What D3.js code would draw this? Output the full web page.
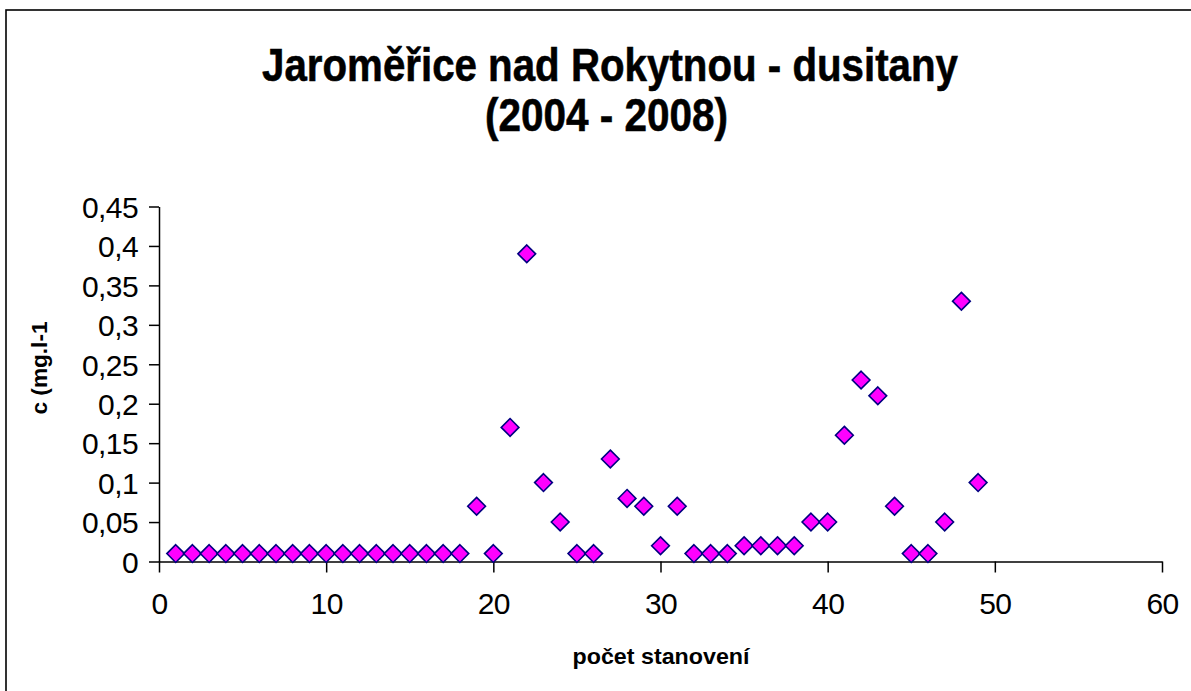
<!DOCTYPE html>
<html><head><meta charset="utf-8">
<script src="https://cdn.jsdelivr.net/npm/d3@7"></script>
<style>body{margin:0;background:#fff}svg{display:block}text{font-family:Arial,"Liberation Sans",sans-serif}</style>
</head><body>
<svg id="c" width="1191" height="691"></svg>
<script>
const titleLines = ["Jaroměřice nad Rokytnou - dusitany", "(2004 - 2008)"];
const xTitle = "počet stanovení";
const yTitle = "c (mg.l-1";
const xs = d3.range(1, 50);
const values = [0.01,0.01,0.01,0.01,0.01,0.01,0.01,0.01,0.01,0.01,0.01,0.01,0.01,0.01,0.01,0.01,0.01,0.01,
  0.07,0.01,0.17,0.39,0.10,0.05,0.01,0.01,0.13,0.08,0.07,0.02,0.07,0.01,0.01,0.01,0.02,0.02,0.02,0.02,
  0.05,0.05,0.16,0.23,0.21,0.07,0.01,0.01,0.05,0.33,0.10];
const xTicks = [0,10,20,30,40,50,60];
const yTicks = [0,0.05,0.1,0.15,0.2,0.25,0.3,0.35,0.4,0.45];

const svg = d3.select("#c");
svg.append("rect").attr("x",6).attr("y",10).attr("width",1200).attr("height",700)
  .attr("fill","none").attr("stroke","#000").attr("stroke-width",1.6);

const x = d3.scaleLinear().domain([0,60]).range([159,1162]);
const y = d3.scaleLinear().domain([0,0.45]).range([561.5,206.5]);
const fmt = d => String(d).replace(".", ",");

const xa = svg.append("g").attr("transform","translate(0,561.5)")
  .call(d3.axisBottom(x).tickValues(xTicks).tickSize(11).tickPadding(20).tickSizeOuter(0).tickFormat(d=>d));
const ya = svg.append("g").attr("transform","translate(159,0)")
  .call(d3.axisLeft(y).tickValues(yTicks).tickSize(10).tickPadding(11).tickSizeOuter(0).tickFormat(fmt));
[xa,ya].forEach(a=>{
  a.select(".domain").attr("stroke","#000").attr("stroke-width",1.5);
  a.selectAll(".tick line").attr("stroke","#000").attr("stroke-width",1.5);
  a.selectAll(".tick text").attr("font-size",30).attr("fill","#000")
   .attr("font-family","Arial, 'Liberation Sans', sans-serif").attr("letter-spacing",-0.6);
});
ya.selectAll(".tick text").attr("dy","0.36em");

const sym = d3.symbol().type(d3.symbolDiamond2).size(200);
svg.append("g").selectAll("path").data(values).join("path")
  .attr("transform",(d,i)=>`translate(${x(xs[i])},${y(d)})`)
  .attr("d", sym)
  .attr("fill","#ff00ff").attr("stroke","#000080").attr("stroke-width",1.6);

const t = svg.append("g").attr("font-weight","bold").attr("text-anchor","middle").attr("font-size",47)
  .attr("stroke","#000").attr("stroke-width",0.6);
t.append("text").attr("x",610).attr("y",81).attr("textLength",696).attr("lengthAdjust","spacingAndGlyphs").text(titleLines[0]);
t.append("text").attr("x",606.5).attr("y",131).attr("textLength",243).attr("lengthAdjust","spacingAndGlyphs").text(titleLines[1]);

svg.append("text").attr("x",661).attr("y",664).attr("text-anchor","middle")
  .attr("font-weight","bold").attr("font-size",22).attr("textLength",177).attr("lengthAdjust","spacingAndGlyphs").text(xTitle);
svg.append("text").attr("transform","translate(47,368) rotate(-90)").attr("text-anchor","middle")
  .attr("font-weight","bold").attr("font-size",22).attr("textLength",93).attr("lengthAdjust","spacingAndGlyphs").text(yTitle);
</script>
</body></html>
